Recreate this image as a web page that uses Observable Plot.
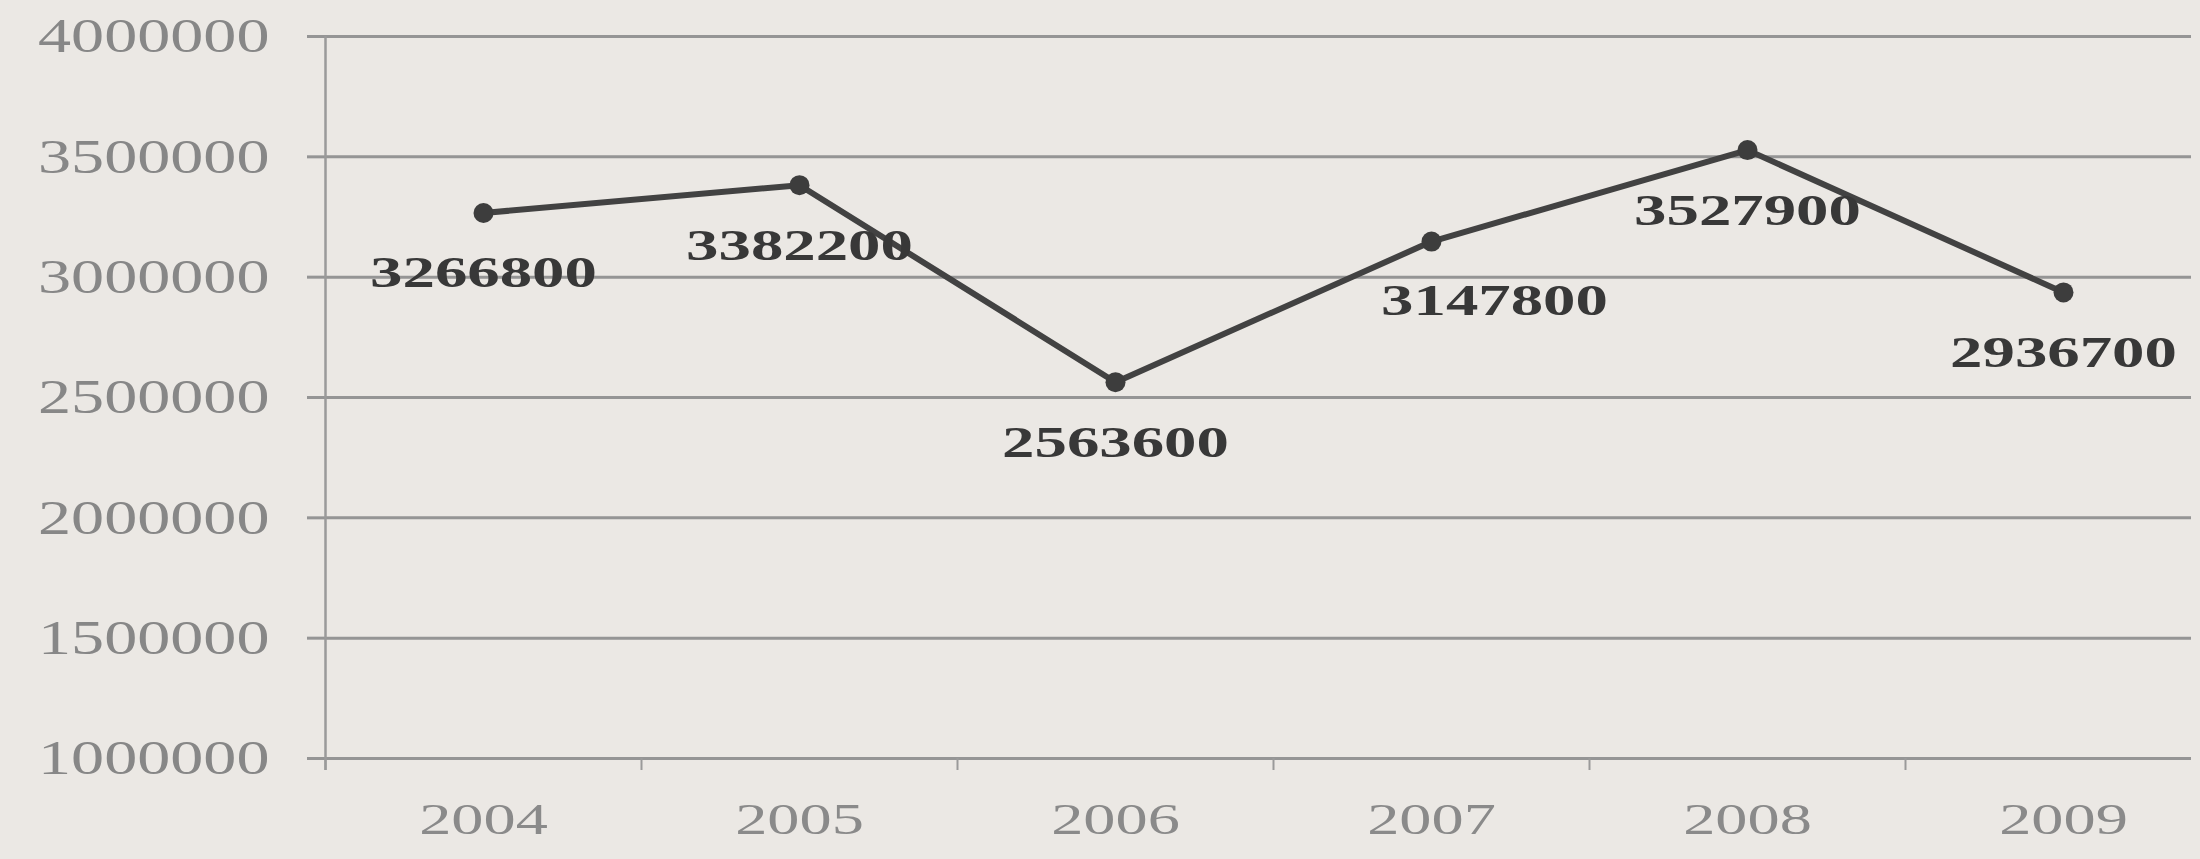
<!DOCTYPE html>
<html>
<head>
<meta charset="utf-8">
<script src="https://cdn.jsdelivr.net/npm/d3@7"></script>
<script src="https://cdn.jsdelivr.net/npm/@observablehq/plot@0.6"></script>
<style>
  html, body { margin: 0; padding: 0; background: #ebe8e4; }
  #chart { width: 2200px; height: 859px; }
</style>
</head>
<body>
<div id="chart"></div>
<script>
// Data
const years = [2004, 2005, 2006, 2007, 2008, 2009];
const values = [3266800, 3382200, 2563600, 3147800, 3527900, 2936700];
const yTicks = [1000000, 1500000, 2000000, 2500000, 3000000, 3500000, 4000000];

const data = years.map((year, i) => ({year, value: values[i]}));
const boundaries = years.map(y => y - 0.5);

const chart = Plot.plot({
  width: 2200,
  height: 859,
  marginLeft: 325,
  marginRight: 9,
  marginTop: 36,
  marginBottom: 101,
  style: {background: "transparent", fontFamily: "'Liberation Serif', serif", overflow: "visible"},
  x: {domain: [2003.5, 2009.5], range: [325, 2221], label: null},
  y: {domain: [1000000, 4000000], label: null},
  marks: [
    Plot.gridY(yTicks, {stroke: "#959595", strokeOpacity: 1, strokeWidth: 3}),
    Plot.axisY(yTicks, {
      tickSize: 18, tickPadding: 38, stroke: "#959595", strokeWidth: 3, label: null,
      tickFormat: d => String(d), fill: "#878787", fontSize: 49, className: "ylab"
    }),
    Plot.ruleX([2003.5], {stroke: "#9a9a9a", strokeWidth: 2.5, insetBottom: -12}),
    Plot.axisX(boundaries, {tickSize: 12, stroke: "#9a9a9a", strokeWidth: 2, tickFormat: () => "", label: null}),
    Plot.axisX(years, {
      tickSize: 0, tickPadding: 44, tickFormat: d => String(d), label: null,
      fill: "#8a8a8a", fontSize: 45, className: "xlab"
    }),
    Plot.line(data, {x: "year", y: "value", stroke: "#424242", strokeWidth: 6}),
    Plot.dot(data, {x: "year", y: "value", r: 10, fill: "#3d3d3d", stroke: "none"}),
    Plot.text(data.filter(d => d.year !== 2007), {
      x: "year", y: "value", text: d => String(d.value), dy: 60,
      fill: "#383838", fontWeight: "bold", fontSize: 45, className: "vlab"
    }),
    Plot.text(data.filter(d => d.year === 2007), {
      x: "year", y: "value", text: d => String(d.value), dy: 59, dx: 63,
      fill: "#383838", fontWeight: "bold", fontSize: 45, className: "vlab"
    })
  ]
});
document.getElementById("chart").appendChild(chart);

// The reference's lettering is horizontally stretched: widen glyphs natively via textLength
const stretch = {ylab: 1.35, xlab: 1.43, vlab: 1.44};
for (const [cls, k] of Object.entries(stretch)) {
  chart.querySelectorAll(`g.${cls} text, .${cls} text`).forEach(el => {
    const w = el.getComputedTextLength();
    if (w > 0) {
      el.setAttribute("textLength", (w * k).toFixed(1));
      el.setAttribute("lengthAdjust", "spacingAndGlyphs");
    }
  });
}
</script>
</body>
</html>
